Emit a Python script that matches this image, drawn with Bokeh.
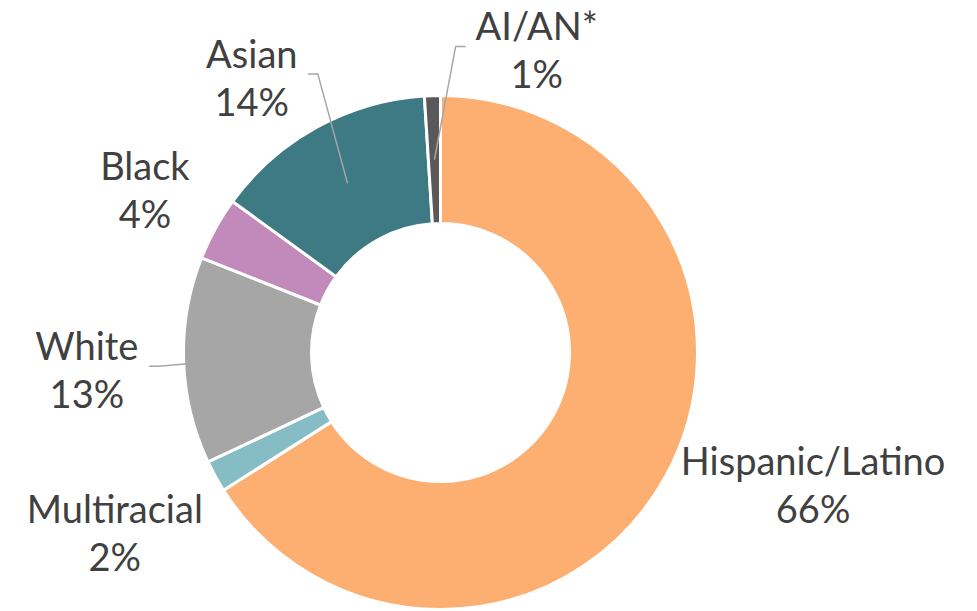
import numpy as np
from bokeh.plotting import figure
from bokeh.models import Range1d, ColumnDataSource
from bokeh.embed import file_html
from bokeh.resources import INLINE
from bokeh.core.properties import value

# ---- data ----
categories = ["Hispanic/Latino", "Multiracial", "White", "Black", "Asian", "AI/AN*"]
percents = [66, 2, 13, 4, 14, 1]
colors = ["#FDAE71", "#86BCC4", "#A6A6A6", "#C28ABA", "#3E7A83", "#595959"]

# ---- layout (pixels) ----
W, H = 977, 611
cx, cy = 440, 259
r_out, r_in = 257, 129
label_shift_deg = [9.4, 0.1, 0.9, -0.2, 5.6, -19.4]
label_radius = [395, 372, 354, 338, 334, 318]
leader_dx = [None, None, 62, None, 56, -71]
line_gap = 24
font = "Lato"
font_size = "38px"
text_color = "#404040"

vals = np.array(percents, dtype=float)
frac = vals / vals.sum()
cum = np.cumsum(frac)
prev = np.concatenate([[0.0], cum[:-1]])
start = np.pi / 2 - 2 * np.pi * prev
end = np.pi / 2 - 2 * np.pi * cum
mid = (start + end) / 2

wedges = ColumnDataSource(dict(start=start, end=end, color=colors, cat=categories))

p = figure(width=W, height=H, x_range=Range1d(0, W), y_range=Range1d(0, H),
           x_axis_type=None, y_axis_type=None, toolbar_location=None,
           output_backend="svg", min_border=0)
p.grid.visible = False
p.outline_line_color = None
p.background_fill_color = "white"
p.border_fill_color = "white"

p.annular_wedge(x=cx, y=cy, inner_radius=r_in, outer_radius=r_out,
                start_angle="start", end_angle="end", direction="clock",
                fill_color="color", line_color="white", line_width=3,
                source=wedges)

# labels
lab_ang = mid + np.radians(label_shift_deg)
lx = cx + np.array(label_radius) * np.cos(lab_ang)
ly = cy + np.array(label_radius) * np.sin(lab_ang)
pct_text = [f"{v:g}%" for v in percents]

p.text(x=lx, y=ly + line_gap, text=categories, text_align="center",
       text_baseline="middle", text_font=value(font), text_font_size=font_size,
       text_color=text_color)
p.text(x=lx, y=ly - line_gap, text=pct_text, text_align="center",
       text_baseline="middle", text_font=value(font), text_font_size=font_size,
       text_color=text_color)

# leader lines
r_mid = (r_in + r_out) / 2
xs, ys = [], []
for i, d in enumerate(leader_dx):
    if d is None:
        continue
    sx = cx + r_mid * np.cos(mid[i])
    sy = cy + r_mid * np.sin(mid[i])
    ex = lx[i] + d
    ey = ly[i] + 3
    elx = ex + 10 * np.sign(d)
    xs.append([ex, elx, sx])
    ys.append([ey, ey, sy])
p.multi_line(xs=xs, ys=ys, line_color="#A6A6A6", line_width=1.5)

open("out.html", "w").write(file_html(p, INLINE))
